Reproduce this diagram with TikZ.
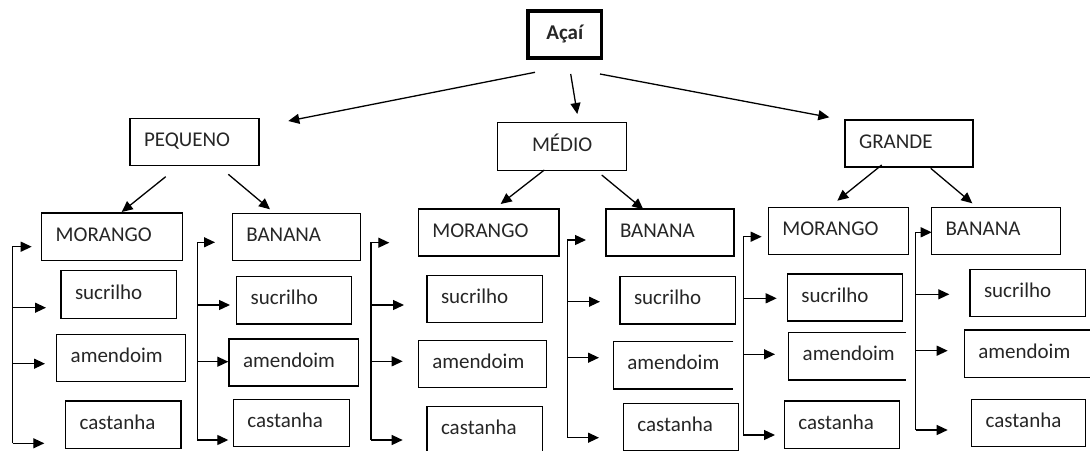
\documentclass[tikz,border=0pt]{standalone}
\usepackage{fontspec}
\newfontfamily\carl{Carlito}
\usetikzlibrary{arrows.meta}
\hyphenpenalty=10000
\exhyphenpenalty=10000
\begin{document}
\begin{tikzpicture}[x=1pt,y=-1pt,
  txt/.style={font=\carl\fontsize{21}{25}\selectfont, text=black!85},
  bx/.style={txt, draw, line width=1.1pt, anchor=north west, outer sep=0pt,
    inner xsep=14pt, inner ysep=0pt, align=left, text height=13pt, text depth=4pt},
  ob/.style={bx, draw=none},
  cb/.style={txt, draw, line width=1.1pt, anchor=north west, outer sep=0pt,
    inner sep=0pt, align=center, text height=13pt, text depth=4pt},
  arr/.style={line width=1.3pt, -{Triangle[length=11pt,width=10pt]}},
  ln/.style={line width=1.1pt}
]
\clip (0,0) rectangle (1090,450);

% top level
\node[cb, line width=3.2pt, minimum width=73.5, minimum height=47,
  font=\carl\bfseries\fontsize{21}{25}\selectfont] (acai) at (528,11) {Açaí};
\node[bx, text width=101, minimum height=47] (peq) at (130,118.3) {PEQUENO};
\node[cb, minimum width=129, minimum height=48] (med) at (497.7,122.7) {MÉDIO};
\node[bx, text width=100, minimum height=47] (gra) at (845,120) {GRANDE};

% group PEQUENO
\node[bx, text width=112.6, minimum height=47.7] (mor1) at (41.7,213) {MORANGO};
\node[bx, text width=87.7, minimum height=47.6] (suc1) at (61,270.7) {sucrilho};
\node[bx, text width=101, minimum height=47.4] (ame1) at (56.7,334.3) {amendoim};
\node[bx, text width=87.3, minimum height=47.3] (cas1) at (65.7,401) {castanha};
\node[bx, text width=100.4, minimum height=47.4] (ban1) at (232.3,213.3) {BANANA};
\node[bx, text width=87, minimum height=47.3] (suc2) at (236.7,276.7) {sucrilho};
\node[bx, text width=101.3, minimum height=47] (ame2) at (229,339) {amendoim};
\node[bx, text width=88, minimum height=47.4] (cas2) at (233.3,399.3) {castanha};

% group MEDIO
\node[bx, text width=112.7, minimum height=47] (mor2) at (418.3,209) {MORANGO};
\node[bx, text width=87.7, minimum height=47] (suc3) at (427,275.7) {sucrilho};
\node[bx, text width=100.4, minimum height=47] (ame3) at (418.3,340.7) {amendoim};
\node[bx, text width=87.7, minimum height=47.3] (cas3) at (427,406.7) {castanha};
\node[bx, text width=100, minimum height=47] (ban2) at (606,209) {BANANA};
\node[bx, text width=87.7, minimum height=47.3] (suc4) at (620,276.7) {sucrilho};
\node[ob, text width=92, minimum height=47.3] (ame4) at (613.3,341.7) {amendoim};
\draw[ln] (ame4.north east) -- (ame4.north west) -- (ame4.south west) -- (ame4.south east);
\node[bx, text width=87, minimum height=47.3] (cas4) at (623.3,403.3) {castanha};

% group GRANDE
\node[bx, text width=112, minimum height=47] (mor3) at (768.3,207.3) {MORANGO};
\node[bx, text width=87.4, minimum height=47] (suc5) at (787.3,274) {sucrilho};
\node[ob, text width=89.3, minimum height=47.3] (ame5) at (788.7,332.7) {amendoim};
\draw[ln] (ame5.north east) -- (ame5.north west) -- (ame5.south west) -- (ame5.south east);
\node[bx, text width=87, minimum height=47.3] (cas5) at (784.3,401) {castanha};
\node[bx, text width=101, minimum height=47] (ban3) at (931.7,207.3) {BANANA};
\node[bx, text width=87.7, minimum height=47.4] (suc6) at (970,269.3) {sucrilho};
\node[bx, text width=102, minimum height=47.3] (ame6) at (964.3,330) {amendoim};
\node[bx, text width=86, minimum height=47.4] (cas6) at (971.7,399.3) {castanha};

% arrows from the top level
\coordinate (s1) at (535,72.3);   \coordinate (e1) at (288.3,121);
\coordinate (s2) at (570.7,74);   \coordinate (e2) at (577.3,114);
\coordinate (s3) at (600,74);     \coordinate (e3) at (829.3,117.3);
\draw[arr] (s1) -- (e1);
\draw[arr] (s2) -- (e2);
\draw[arr] (s3) -- (e3);

% arrows from the sizes
\coordinate (p1) at (165.7,176.7); \coordinate (q1) at (121.7,212);
\coordinate (p2) at (228.3,174.3); \coordinate (q2) at (270,209.3);
\coordinate (p3) at (544.3,170);   \coordinate (q3) at (500.7,204);
\coordinate (p4) at (601.7,175);   \coordinate (q4) at (643.3,209.3);
\coordinate (p5) at (881.7,165);   \coordinate (q5) at (837.3,200.7);
\coordinate (p6) at (930.7,168.3); \coordinate (q6) at (972.3,203.3);
\foreach \i in {1,...,6}{\draw[arr] (p\i) -- (q\i);}

% bracket connectors
\foreach \n/\x/\ya/\xa/\yb/\xb/\yc/\xc/\yd/\xd in {
  1/12.7/246.7/31.7/307.7/46/363.7/45/443.3/44.3,
  2/197.3/242.3/215/305/230/361.7/228.3/440/228.3,
  3/371/242.7/389.3/305/404/361.3/402.7/440/402.7,
  4/567.3/240/586/301.7/600/357.7/599/437.7/599,
  5/743.3/236.7/761.7/298.3/776.7/354.3/775/435/775,
  6/915.7/232.3/931.7/294.3/949.3/350.7/947.7/430/947.7}{
  \coordinate (vt\n) at (\x,\ya);
  \coordinate (vb\n) at (\x,\yd);
  \coordinate (ha\n) at (\xa,\ya);
  \coordinate (hb\n) at (\xb,\yb);
  \coordinate (hc\n) at (\xc,\yc);
  \coordinate (hd\n) at (\xd,\yd);
  \draw[arr] (vb\n) -- (vt\n) -- (ha\n);
  \draw[arr] (vt\n |- hb\n) -- (hb\n);
  \draw[arr] (vt\n |- hc\n) -- (hc\n);
  \draw[arr] (vb\n) -- (hd\n);
}
\end{tikzpicture}
\end{document}
